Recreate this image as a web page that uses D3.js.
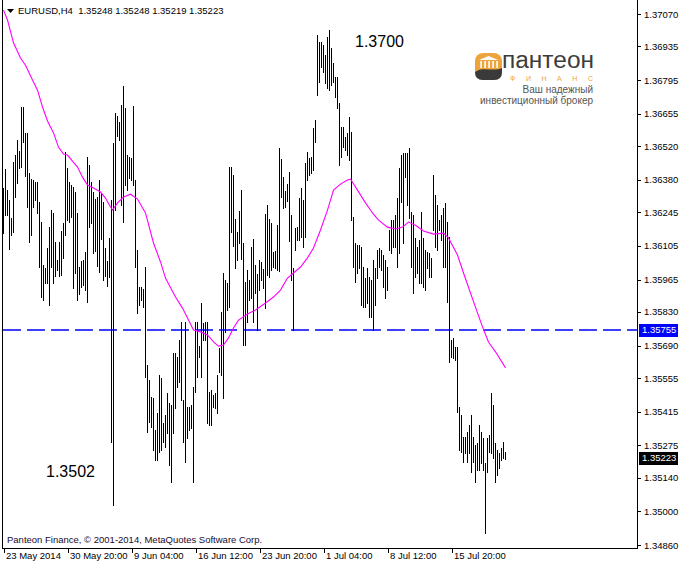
<!DOCTYPE html>
<html><head><meta charset="utf-8">
<script src="https://cdn.jsdelivr.net/npm/d3@7"></script>
<style>
body{margin:0;background:#fff}
svg{display:block}
text{font-family:"Liberation Sans",Arial,sans-serif}
</style>
</head><body>
<svg id="c" width="680" height="566"></svg>
<script>
// ---------- DATA ----------
const symbolLabel = "EURUSD,H4";
const lastOHLC = [1.35248, 1.35248, 1.35219, 1.35223];

const highs = [
1.36346,1.36425,1.36337,1.36296,1.36221,1.36454,1.36483,1.36545,1.36500,1.36683,
1.36683,1.36575,1.36575,1.36408,1.36383,1.36379,1.36371,1.36371,1.36288,1.36204,
1.36025,1.36013,1.36096,1.36183,1.36254,1.36242,1.36121,1.36046,1.36121,1.36167,
1.36200,1.36496,1.36429,1.36371,1.36358,1.36350,1.36329,1.36242,1.36017,1.36042,
1.36046,1.36080,1.36475,1.36441,1.36371,1.36329,1.36300,1.36308,1.36379,1.36325,
1.36288,1.36096,1.36042,1.36138,1.36296,1.36533,1.36658,1.36645,1.36621,1.36691,
1.36770,1.36679,1.36483,1.36475,1.36471,1.36687,1.36379,1.36088,1.35934,1.35934,
1.35926,1.36017,1.35609,1.35547,1.35476,1.35472,1.35339,1.35410,1.35567,1.35555,
1.35368,1.35401,1.35493,1.35451,1.35442,1.35660,1.35660,1.35643,1.35713,1.35788,
1.35463,1.35788,1.35434,1.35434,1.35442,1.35518,1.35788,1.35788,1.35688,1.35867,
1.35784,1.35788,1.35788,1.35497,1.35505,1.35484,1.35493,1.35567,1.35680,1.35830,
1.35992,1.35963,1.35951,1.36433,1.36433,1.36399,1.36217,1.36163,1.36250,1.36337,
1.36117,1.35955,1.36004,1.35963,1.36100,1.36134,1.36025,1.35987,1.36046,1.36038,
1.36009,1.36237,1.36275,1.36217,1.36200,1.36080,1.36084,1.36191,1.36512,1.36467,
1.36391,1.36333,1.36362,1.36412,1.36233,1.36013,1.36179,1.36183,1.36304,1.36346,
1.36296,1.36450,1.36496,1.36471,1.36475,1.36596,1.36629,1.36982,1.36954,1.36954,
1.36941,1.36899,1.36974,1.37003,1.36929,1.36866,1.36808,1.36808,1.36700,1.36600,
1.36600,1.36558,1.36575,1.36641,1.36579,1.36225,1.36117,1.36108,1.36108,1.36100,
1.36017,1.35971,1.36013,1.35975,1.35963,1.36046,1.36013,1.36088,1.36096,1.36088,
1.36067,1.36046,1.36017,1.36171,1.36212,1.36212,1.36233,1.36304,1.36429,1.36483,
1.36492,1.36492,1.36492,1.36512,1.36246,1.36233,1.36138,1.36100,1.36129,1.36246,
1.36138,1.36088,1.36080,1.36076,1.36055,1.36399,1.36316,1.36275,1.36212,1.36233,
1.36263,1.36284,1.36204,1.36142,1.35713,1.35722,1.35684,1.35684,1.35434,1.35401,
1.35310,1.35310,1.35331,1.35359,1.35401,1.35310,1.35276,1.35285,1.35359,1.35331,
1.35306,1.35202,1.35306,1.35318,1.35493,1.35442,1.35285,1.35256,1.35244,1.35264,
1.35289,1.35248
];

const lows = [
1.36159,1.36233,1.36233,1.36092,1.36150,1.36163,1.36308,1.36367,1.36429,1.36433,
1.36537,1.36395,1.36267,1.36121,1.36150,1.36267,1.36296,1.36242,1.36017,1.35892,
1.35879,1.35951,1.35951,1.35858,1.36017,1.35951,1.35979,1.36004,1.35979,1.35983,
1.36055,1.36150,1.36212,1.36204,1.36225,1.35930,1.35992,1.35879,1.35904,1.35934,
1.35942,1.35921,1.35871,1.36183,1.36200,1.36076,1.36084,1.36021,1.35996,1.36134,
1.35963,1.35979,1.35938,1.35975,1.35289,1.35026,1.36254,1.36562,1.36545,1.36275,
1.36204,1.36358,1.36337,1.36387,1.36379,1.36358,1.36017,1.35826,1.35858,1.35879,
1.35850,1.35559,1.35331,1.35372,1.35351,1.35256,1.35214,1.35214,1.35248,1.35256,
1.35289,1.35268,1.35327,1.35193,1.35123,1.35327,1.35430,1.35518,1.35539,1.35463,
1.35289,1.35206,1.35306,1.35339,1.35347,1.35123,1.35497,1.35559,1.35643,1.35559,
1.35713,1.35713,1.35368,1.35359,1.35359,1.35434,1.35430,1.35410,1.35580,1.35567,
1.35472,1.35747,1.35838,1.35850,1.36163,1.36104,1.36013,1.36046,1.36117,1.36051,
1.35692,1.35692,1.35788,1.35879,1.35888,1.35788,1.35909,1.35755,1.35921,1.35963,
1.35930,1.35846,1.35983,1.35975,1.36004,1.36017,1.36013,1.36004,1.36000,1.36308,
1.36263,1.36267,1.36292,1.36125,1.35963,1.35755,1.36088,1.36129,1.36129,1.36142,
1.36100,1.36142,1.36379,1.36399,1.36408,1.36420,1.36537,1.36732,1.36787,1.36849,
1.36829,1.36783,1.36762,1.36753,1.36774,1.36787,1.36724,1.36679,1.36441,1.36475,
1.36516,1.36504,1.36483,1.36462,1.36212,1.36017,1.35955,1.35992,1.36013,1.35858,
1.35850,1.35850,1.35867,1.35809,1.35809,1.35755,1.35858,1.35971,1.36017,1.36004,
1.35934,1.35888,1.35921,1.36088,1.36076,1.36100,1.36100,1.36017,1.36076,1.36288,
1.36117,1.36391,1.36275,1.36221,1.36017,1.35909,1.35975,1.35992,1.35951,1.35951,
1.35934,1.35921,1.36013,1.35975,1.35975,1.36171,1.36100,1.36088,1.36171,1.36129,
1.36017,1.36017,1.35871,1.35622,1.35643,1.35639,1.35630,1.35414,1.35256,1.35248,
1.35206,1.35244,1.35206,1.35244,1.35164,1.35206,1.35123,1.35172,1.35172,1.35202,
1.35172,1.34911,1.35164,1.35248,1.35244,1.35223,1.35123,1.35151,1.35181,1.35214,
1.35223,1.35219
];

// moving average, read at these bar positions
const maIndex = [0,2,5,8.5,11,14.5,17,19.5,22,25,27.5,30,32,34.5,37,39.5,42,45,48.5,51,
53.5,54.5,57,60,63.5,67,71,75,78.5,81,86,89.5,92.5,95,98.5,102,105,107.5,110,112.5,
115,117.5,122,126,131,135,138.5,142,145,148.5,152,155,158.5,162,165,168.5,172,173.5,177,181,
184.5,187.5,192,196,199.5,202.5,206,210,215,220,222.5,227,230,233.5,237,239.5,242.5,246,249.5,251];
const maValue = [1.37086,1.37045,1.36950,1.36887,1.36857,1.36795,1.36753,1.36683,1.36625,1.36575,
1.36516,1.36487,1.36483,1.36458,1.36433,1.36391,1.36358,1.36346,1.36329,1.36304,
1.36267,1.36254,1.36284,1.36308,1.36320,1.36300,1.36242,1.36117,1.36038,1.35971,
1.35892,1.35846,1.35796,1.35755,1.35747,1.35734,1.35705,1.35688,1.35692,1.35722,
1.35763,1.35796,1.35821,1.35838,1.35867,1.35892,1.35921,1.35971,1.35992,1.36017,
1.36055,1.36096,1.36171,1.36254,1.36337,1.36362,1.36379,1.36383,1.36337,1.36284,
1.36242,1.36212,1.36183,1.36175,1.36183,1.36204,1.36191,1.36167,1.36154,1.36158,
1.36138,1.36067,1.35992,1.35909,1.35826,1.35768,1.35705,1.35664,1.35618,1.35597];

const timeTickIndex = [0,32,64,96,128,160,192,224];
const timeTickLabels = ["23 May 2014","30 May 20:00","9 Jun 04:00","16 Jun 12:00","23 Jun 20:00","1 Jul 04:00","8 Jul 12:00","15 Jul 20:00"];
const priceTicks = [1.37070,1.36935,1.36795,1.36655,1.36520,1.36380,1.36245,1.36105,1.35965,1.35830,1.35690,1.35555,1.35415,1.35275,1.35140,1.35000,1.34860];
const levelPrice = 1.35755;
const annotTexts = ["1.3700","1.3502"];
const annotIndex = [163, 55];
const annotPrice = [1.3700, 1.3502];
const copyrightText = "Panteon Finance, \u00A9 2001-2014, MetaQuotes Software Corp.";

// ---------- CHART ----------
const svg = d3.select("#c");
const W = 680, H = 566;
const left = 2, right = 637, bottom = 548;
svg.append("rect").attr("width", W).attr("height", H).attr("fill", "#fff");

const x = d3.scaleLinear().domain([0, 251]).range([3, 505]);
const y = d3.scaleLinear().domain([1.34860, 1.37070]).range([545, 14]);
const fmt = d3.format(".5f");

// level line
const ly = Math.round(y(levelPrice));
svg.append("line").attr("x1", 3).attr("x2", right).attr("y1", ly).attr("y2", ly)
  .attr("stroke", "#0000ff").attr("stroke-width", 1.6).attr("stroke-dasharray", "18,6");

// bars
const bars = svg.append("g").attr("shape-rendering", "crispEdges");
bars.selectAll("line").data(highs).join("line")
  .attr("x1", (d, i) => Math.round(x(i)) + 0.5)
  .attr("x2", (d, i) => Math.round(x(i)) + 0.5)
  .attr("y1", d => Math.round(y(d)))
  .attr("y2", (d, i) => Math.round(y(lows[i])) + 1)
  .attr("stroke", "#000").attr("stroke-width", 1);

// moving average
const maPts = maIndex.map((v, i) => [v, maValue[i]]);
svg.append("path").datum(maPts)
  .attr("d", d3.line().x(d => x(d[0]) + 0.5).y(d => y(d[1])))
  .attr("fill", "none").attr("stroke", "#ff00ff").attr("stroke-width", 1.1);

// frame
const frame = svg.append("g").attr("stroke", "#000").attr("stroke-width", 1).attr("shape-rendering", "crispEdges");
frame.append("line").attr("x1", left + 0.5).attr("x2", left + 0.5).attr("y1", 0).attr("y2", bottom + 0.5);
frame.append("line").attr("x1", right + 0.5).attr("x2", right + 0.5).attr("y1", 0).attr("y2", bottom + 0.5);
frame.append("line").attr("x1", left).attr("x2", right + 1).attr("y1", bottom + 0.5).attr("y2", bottom + 0.5);

// right price axis
const ay = svg.append("g").attr("transform", `translate(${right + 1},0)`)
  .call(d3.axisRight(y).tickValues(priceTicks).tickFormat(fmt).tickSize(3).tickPadding(3));
ay.select(".domain").remove();
ay.selectAll("line").attr("stroke", "#000").attr("shape-rendering", "crispEdges");
ay.selectAll("text").attr("font-family", "Liberation Sans, Arial, sans-serif").attr("font-size", "9.5px").attr("fill", "#000");

// bottom time axis
const ax = svg.append("g").attr("transform", `translate(0.5,${bottom + 1})`)
  .call(d3.axisBottom(x).tickValues(timeTickIndex).tickFormat((d, i) => timeTickLabels[i]).tickSize(4).tickPadding(0));
ax.select(".domain").remove();
ax.selectAll("line").attr("stroke", "#000").attr("shape-rendering", "crispEdges");
ax.selectAll("text").attr("text-anchor", "start").attr("x", 2).attr("y", 3).attr("dy", "0.71em")
  .attr("font-family", "Liberation Sans, Arial, sans-serif").attr("font-size", "9.5px").attr("fill", "#000");

// price label boxes
function priceBox(p, fill) {
  const yy = Math.round(y(p));
  svg.append("rect").attr("x", 639).attr("y", yy - 6).attr("width", 39).attr("height", 13).attr("fill", fill);
  svg.append("text").attr("x", 642).attr("y", yy).attr("dy", "0.35em").attr("fill", "#fff")
    .attr("font-size", "9.5px").text(fmt(p));
}
priceBox(levelPrice, "#0000ff");
priceBox(lastOHLC[3], "#000");

// header
svg.append("path").attr("d", "M7,9 L14,9 L10.5,13 Z").attr("fill", "#000");
svg.append("text").attr("x", 18).attr("y", 14).attr("font-size", "9.5px").attr("fill", "#000")
  .attr("xml:space", "preserve")
  .text(symbolLabel + "  " + lastOHLC.map(fmt).join(" "));

// annotations
svg.append("text").attr("x", x(annotIndex[0]) + 26).attr("y", y(annotPrice[0]) + 16)
  .attr("font-size", "16px").attr("fill", "#000").text(annotTexts[0]);
svg.append("text").attr("x", x(annotIndex[1]) - 67).attr("y", y(annotPrice[1]) - 30)
  .attr("font-size", "16px").attr("fill", "#000").text(annotTexts[1]);

// copyright
svg.append("text").attr("x", 7).attr("y", 543).attr("font-size", "9.5px").attr("fill", "#1a0a30").text(copyrightText);

// logo
const lg = svg.append("g");
lg.append("rect").attr("x", 475).attr("y", 53).attr("width", 27).attr("height", 27).attr("rx", 8).attr("fill", "#eea43c");
lg.append("path").attr("d", "M475,72 C482,66 494,72 502,68 L502,72 Q502,80 494,80 L483,80 Q475,80 475,72 Z").attr("fill", "#3a3a3a");
lg.append("path").attr("d", "M479,60 L498,60 L488.5,56 Z").attr("fill", "#fff");
[481, 485, 489, 493, 497].forEach(cx => lg.append("rect").attr("x", cx - 0.7).attr("y", 61).attr("width", 1.6).attr("height", 7).attr("fill", "#fff"));
lg.append("text").attr("x", 502).attr("y", 68).attr("font-family", "DejaVu Sans, sans-serif")
  .attr("font-size", "23px").attr("textLength", 92).attr("lengthAdjust", "spacingAndGlyphs")
  .attr("fill", "#3d3d3d").text("пантеон");
lg.append("text").attr("x", 510).attr("y", 81).attr("font-family", "DejaVu Serif, serif")
  .attr("font-size", "7px").attr("textLength", 83).attr("fill", "#eea43c").text("ФИНАНС");
lg.append("text").attr("x", 593).attr("y", 93).attr("text-anchor", "end").attr("font-family", "Liberation Serif, serif")
  .attr("font-size", "10px").attr("fill", "#555").text("Ваш надежный");
lg.append("text").attr("x", 593).attr("y", 104).attr("text-anchor", "end").attr("font-family", "Liberation Serif, serif")
  .attr("font-size", "10px").attr("fill", "#555").text("инвестиционный брокер");
</script>
</body></html>
